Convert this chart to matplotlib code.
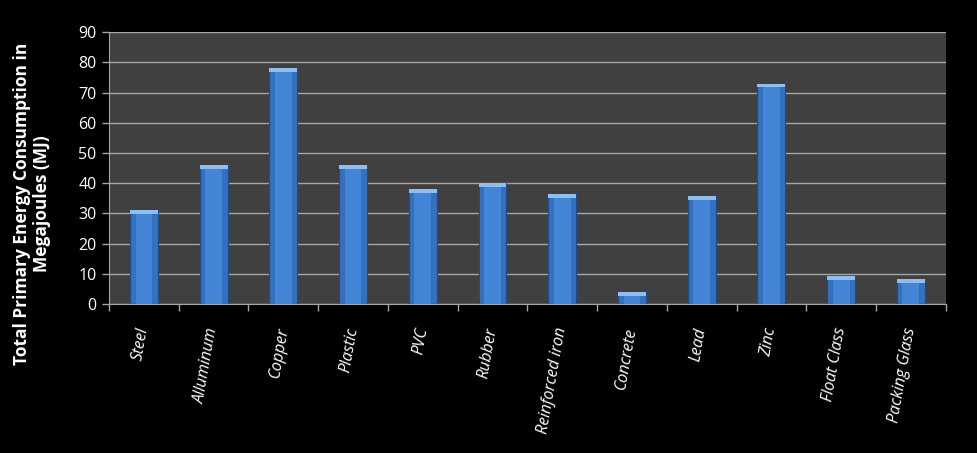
import numpy as np
import matplotlib
matplotlib.use('Agg')
import matplotlib.pyplot as plt

# Data
materials = ['Steel', 'Alluminum', 'Copper', 'Plastic', 'PVC', 'Rubber',
             'Reinforced iron', 'Concrete', 'Lead', 'Zinc', 'Float Class',
             'Packing Glass']
energy_mj = [31, 46, 78, 46, 38, 40, 36.5, 4, 35.7, 73, 9.3, 8.3]
y_ticks = [0, 10, 20, 30, 40, 50, 60, 70, 80, 90]

plt.rcParams['font.family'] = ['Open Sans', 'DejaVu Sans']

fig = plt.figure(figsize=(9.78, 4.53), dpi=100)
fig.patch.set_facecolor('black')
ax = fig.add_axes([0.1115, 0.329, 0.8555, 0.600])
ax.set_facecolor('#404040')

x = np.arange(len(materials))
width = 0.4
vals = np.array(energy_mj)

# main bar body
ax.bar(x, vals, width=width, color='#3470c0', edgecolor='#1f4c88', linewidth=0.8, zorder=3)
# lighter inner strip to hint at the bevel shading
ax.bar(x, vals, width=width * 0.6, color='#4385d6', linewidth=0, zorder=3)
# light cap on top of each bar
cap = np.minimum(1.3, vals * 0.4)
ax.bar(x, cap, bottom=vals - cap, width=width, color='#8cc0f2', linewidth=0, zorder=4)

ax.set_ylim(0, 90)
ax.set_xlim(-0.5, len(materials) - 0.5)
ax.set_yticks(y_ticks)
ax.yaxis.grid(True, color='#a6a6a6', linewidth=1.0, zorder=0)
ax.set_axisbelow(True)

# ticks between categories on x
ax.set_xticks(np.arange(len(materials) + 1) - 0.5, minor=False)
ax.set_xticklabels([])
ax.set_xticks(x, minor=True)
ax.set_xticklabels(materials, minor=True, rotation=80, ha='right', va='center',
                   rotation_mode='anchor', fontsize=11.5, style='italic', color='white')
ax.tick_params(axis='x', which='minor', length=0, pad=17)
ax.tick_params(axis='x', which='major', length=5, color='#a6a6a6', width=1)
ax.tick_params(axis='y', length=5, color='#a6a6a6', width=1, labelsize=11.5,
               labelcolor='white', pad=4)

for side in ['top', 'right']:
    ax.spines[side].set_visible(False)
ax.spines['left'].set_color('#a6a6a6')
ax.spines['bottom'].set_color('#a6a6a6')

ax.set_ylabel('Total Primary Energy Consumption in\nMegajoules (MJ)', color='white',
              fontsize=12.5, fontweight='bold', linespacing=1.15)
ax.yaxis.set_label_coords(-0.069, 0.37)

fig.savefig('out.png', dpi=100, facecolor='black')
